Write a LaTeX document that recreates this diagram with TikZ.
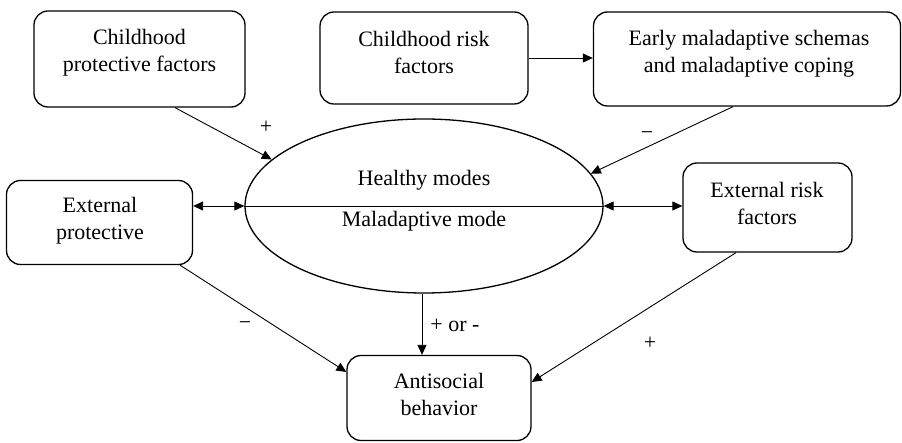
\documentclass[tikz,border=0pt]{standalone}
\usepackage{fontspec}
\setmainfont{Liberation Serif}
\usetikzlibrary{arrows.meta,shapes.geometric}
\begin{document}
\begin{tikzpicture}[x=1pt,y=-1pt,
  box/.style={draw,line width=1.3pt,rounded corners=14pt,inner sep=0pt},
  txt/.style={align=center,inner sep=0pt,font=\fontsize{22}{27}\selectfont},
  lbl/.style={inner sep=0pt,font=\fontsize{22}{27}\selectfont},
  conn/.style={line width=0.9pt,-{Triangle[length=10pt,width=9pt]}},
  biconn/.style={line width=0.9pt,{Triangle[length=10pt,width=9pt]}-{Triangle[length=10pt,width=9pt]}}]
\useasboundingbox (0,0) rectangle (902,443);
% boxes
\node[box,minimum width=211pt,minimum height=96pt] (cp) at (139.5,59) {};
\node[box,minimum width=208pt,minimum height=92pt] (cr) at (424,58) {};
\node[box,minimum width=307pt,minimum height=94pt] (ems) at (747,59) {};
\node[box,minimum width=186pt,minimum height=84pt] (ep) at (99.5,222.5) {};
\node[box,minimum width=169pt,minimum height=89pt] (er) at (767.5,207.5) {};
\node[box,minimum width=184pt,minimum height=85pt] (as) at (439,398) {};
\node[draw,ellipse,line width=1.3pt,minimum width=358pt,minimum height=174pt,inner sep=0pt] (el) at (424,206) {};
% texts
\node[txt] (t1) at (139.5,53) {Childhood\\protective factors};
\node[txt] (t2) at (424,52) {Childhood risk\\factors};
\node[txt] (t3) at (749,54) {Early maladaptive schemas\\and maladaptive coping};
\node[txt] (t4) at (100,221) {External\\protective};
\node[txt] (t5) at (767,203) {External risk\\factors};
\node[txt] (t6) at (439,394) {Antisocial\\behavior};
\node[txt] (t7) at (424,180) {Healthy modes};
\node[txt] (t8) at (424,221) {Maladaptive mode};
% divider
\draw[line width=0.9pt] (el.west) -- (el.east);
% connectors
\draw[conn] ([xshift=35.5pt]cp.south) -- (el.163);
\draw[conn] (cr.east) -- (cr.east -| ems.west);
\draw[conn] ([xshift=-14pt]ems.south) -- (el.11);
\draw[biconn] (el.west -| ep.east) -- (el.west);
\draw[biconn] (el.east) -- (el.east -| er.west);
\draw[conn] ([xshift=80.5pt]ep.south) -- ([yshift=26pt]as.west);
\draw[conn] ([xshift=-2pt]el.south) -- ([xshift=-2pt]el.south |- as.north);
\draw[conn] ([xshift=-31.5pt]er.south) -- ([yshift=16pt]as.east);
% labels
\node[lbl] (l1) at (266,127) {+};
\node[lbl] (l2) at (647,136) {−};
\node[lbl] (l3) at (245,326) {−};
\node[lbl] (l4) at (455,325) {+ or -};
\node[lbl] (l5) at (650,343) {+};
\end{tikzpicture}
\end{document}
